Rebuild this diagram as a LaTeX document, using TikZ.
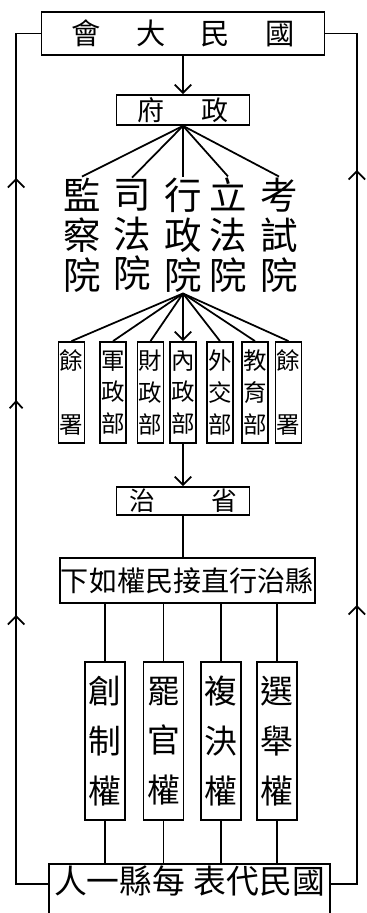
\documentclass[tikz,border=0pt]{standalone}
\usepackage{fontspec}
\newfontfamily\cjk{Noto Sans CJK TC}
\usetikzlibrary{arrows.meta,decorations.markings}

\tikzstyle{hui} = [rectangle, draw, line width=1.5pt, inner sep=0pt,
    minimum width=8.49cm, minimum height=1.29cm, font=\cjk\fontsize{25pt}{25pt}\selectfont]
\tikzstyle{fu} = [rectangle, draw, line width=1.5pt, inner sep=0pt,
    minimum width=3.99cm, minimum height=.9cm, font=\cjk\fontsize{23pt}{23pt}\selectfont]
\tikzstyle{yuan} = [align=center, inner sep=1pt,
    font=\cjk\fontsize{32pt}{34pt}\selectfont]
\tikzstyle{bu} = [rectangle, draw, line width=1.5pt, inner sep=0pt, align=center,
    minimum width=.78cm, minimum height=3.03cm, font=\cjk\fontsize{20pt}{27pt}\selectfont]
\tikzstyle{sheng} = [rectangle, draw, line width=1.5pt, inner sep=0pt,
    minimum width=3.99cm, minimum height=.84cm, font=\cjk\fontsize{22pt}{22pt}\selectfont]
\tikzstyle{xian} = [rectangle, draw, line width=1.5pt, inner sep=0pt,
    minimum width=7.65cm, minimum height=1.35cm, font=\cjk\fontsize{24pt}{24pt}\selectfont]
\tikzstyle{quan} = [rectangle, draw, line width=1.5pt, inner sep=0pt, align=center,
    minimum width=1.2cm, minimum height=4.74cm, font=\cjk\fontsize{28pt}{42.5pt}\selectfont]
\tikzstyle{dai} = [rectangle, draw, line width=1.5pt, inner xsep=0pt, inner ysep=0pt,
    minimum width=8.43cm, text height=.88cm, text depth=.83cm, font=\cjk\fontsize{28pt}{28pt}\selectfont]
\tikzstyle{line} = [line width=1.5pt]
\tikzstyle{barb} = [-{Straight Barb[length=7pt,width=14pt]}]

\begin{document}
\begin{tikzpicture}
	\useasboundingbox (0,0) rectangle (11.01,27.39);
	\node [hui] (dahui) at (5.49,26.385) {會\hspace{30pt}大\hspace{30pt}民\hspace{30pt}國};
	\node [fu] (zhengfu) at (5.49,24.09) {府\hspace{32pt}政};
	%
	\node [yuan] (yaa) at (2.46,20.34) {監\\察\\院};
	\node [yuan] (yab) at (3.96,20.34) {司\\法\\院};
	\node [yuan] (yac) at (5.49,20.34) {行\\政\\院};
	\node [yuan] (yad) at (6.84,20.34) {立\\法\\院};
	\node [yuan] (yae) at (8.37,20.34) {考\\試\\院};
	%
	\node [bu] (bua) at (2.145,15.615) {餘\\[27pt]署};
	\node [bu] (bub) at (3.39,15.615) {軍\\政\\部};
	\node [bu] (buc) at (4.515,15.615) {財\\政\\部};
	\node [bu] (bud) at (5.49,15.615) {內\\政\\部};
	\node [bu] (bue) at (6.6,15.615) {外\\交\\部};
	\node [bu] (buf) at (7.65,15.615) {教\\育\\部};
	\node [bu] (bug) at (8.655,15.615) {餘\\[27pt]署};
	%
	\node [sheng] (sheng) at (5.49,12.36) {治\hspace{48pt}省};
	\node [xian] (xian) at (5.625,9.975) {下如權民接直行治縣};
	%
	\node [quan] (qaa) at (3.15,5.16) {創\\制\\權};
	\node [quan] (qab) at (4.905,5.16) {罷\\官\\權};
	\node [quan] (qac) at (6.63,5.16) {複\\決\\權};
	\node [quan] (qad) at (8.31,5.16) {選\\舉\\權};
	%
	\node [dai, anchor=north] (daibiao) at (5.685,1.5) {人一縣每\hspace{7pt}表代民國};
	%
	\draw [line, barb] (dahui.south) -- (zhengfu.north);
	\foreach \n in {yaa,yab,yac,yad,yae}
		\draw [line] (zhengfu.south) -- (\n.north);
	\foreach \n in {bua,bub,buc,bue,buf,bug}
		\draw [line] (yac.south) -- (\n.north);
	\draw [line, barb] (yac.south) -- (bud.north);
	\draw [line, barb] (bud.south) -- (sheng.north);
	\draw [line] (sheng.south) -- (sheng.south |- xian.north);
	\foreach \n in {qaa,qab,qac,qad} {
		\draw [line] (\n.north |- xian.south) -- (\n.north);
		\draw [line] (\n.south) -- (\n.south |- daibiao.north);
	}
	%
	\draw [line, decoration={markings,
		mark=at position 9.03cm with {\arrow{Straight Barb[length=7pt,width=14pt]}},
		mark=at position 15.48cm with {\arrow{Straight Barb[length=6pt,width=11pt]}},
		mark=at position 22.14cm with {\arrow{Straight Barb[length=7pt,width=14pt]}}},
		postaction={decorate}]
		([yshift=-.63cm]daibiao.north west) -- ++(-.96,0) |- (dahui.west);
	\draw [line, decoration={markings,
		mark=at position 9.15cm with {\arrow{Straight Barb[length=7pt,width=14pt]}},
		mark=at position 22.2cm with {\arrow{Straight Barb[length=7pt,width=14pt]}}},
		postaction={decorate}]
		([yshift=-.63cm]daibiao.north east) -- ++(.78,0) |- (dahui.east);
\end{tikzpicture}
\end{document}
